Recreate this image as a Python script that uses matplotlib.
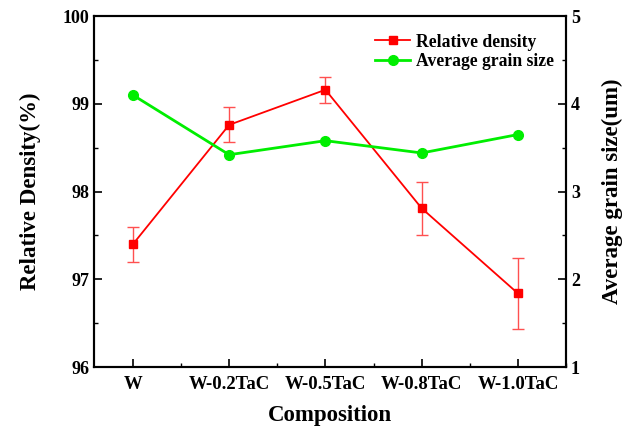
import matplotlib.pyplot as plt
from matplotlib.lines import Line2D
from matplotlib.ticker import MultipleLocator

# Data
compositions = ['W', 'W-0.2TaC', 'W-0.5TaC', 'W-0.8TaC', 'W-1.0TaC']
relative_density = [97.40, 98.76, 99.16, 97.81, 96.84]
density_error = [0.20, 0.20, 0.15, 0.30, 0.40]
grain_size = [4.10, 3.42, 3.58, 3.44, 3.65]

plt.rcParams['font.family'] = 'Liberation Serif'
plt.rcParams['font.weight'] = 'bold'

x = list(range(len(compositions)))

fig, ax = plt.subplots(figsize=(6.29, 4.33), dpi=100)
fig.subplots_adjust(left=0.150, right=0.900, top=0.963, bottom=0.152)

ax2 = ax.twinx()

ax.errorbar(x, relative_density, yerr=density_error, color='#ff0000',
            marker='s', markersize=6, linewidth=1.3, capsize=4,
            elinewidth=1.0, ecolor='#ff5050')
ax2.plot(x, grain_size, color='#00ee00', marker='o', markersize=7,
         linewidth=2.0)

ax.set_xlim(-0.4, 4.5)
ax.set_ylim(96, 100)
ax2.set_ylim(1, 5)

ax.set_xticks(x)
ax.set_xticklabels(compositions)
ax.xaxis.set_minor_locator(MultipleLocator(0.5))
ax.yaxis.set_major_locator(MultipleLocator(1))
ax.yaxis.set_minor_locator(MultipleLocator(0.5))
ax2.yaxis.set_major_locator(MultipleLocator(1))
ax2.yaxis.set_minor_locator(MultipleLocator(0.5))

for a in (ax, ax2):
    a.tick_params(which='major', direction='in', length=6, width=1.2,
                  labelsize=13)
    a.tick_params(which='minor', direction='in', length=3, width=1.0)
    for s in a.spines.values():
        s.set_linewidth(1.5)
ax.tick_params(axis='x', labelsize=13.5, pad=6)

ax.set_xlabel('Composition', fontsize=16.5, fontweight='bold', labelpad=9)
ax.set_ylabel('Relative Density(%)', fontsize=16.5, fontweight='bold',
              labelpad=16)
ax2.set_ylabel('Average grain size(um)', fontsize=16.5, fontweight='bold',
               labelpad=16)

# legend handles: plain line + marker, no error bar
h1 = Line2D([], [], color='#ff0000', marker='s', markersize=6, linewidth=1.3)
h2 = Line2D([], [], color='#00ee00', marker='o', markersize=7, linewidth=2.0)
ax2.legend([h1, h2], ['Relative density', 'Average grain size'],
           loc='upper right', bbox_to_anchor=(1.0, 0.985), frameon=False,
           handlelength=2.0, borderaxespad=0.3, labelspacing=0.15,
           handletextpad=0.3, prop={'weight': 'bold', 'size': 12.7})

fig.savefig('out.png', dpi=100)
